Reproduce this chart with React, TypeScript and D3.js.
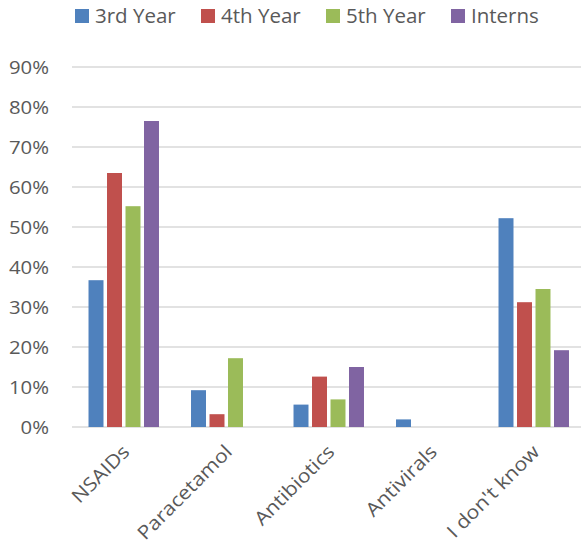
import React from "react";
import * as d3 from "d3";

// Categories and series values (percent of respondents)
const categories = ["NSAIDs", "Paracetamol", "Antibiotics", "Antivirals", "I don't know"];
const seriesNames = ["3rd Year", "4th Year", "5th Year", "Interns"];
const thirdYear = [36.7, 9.2, 5.6, 1.9, 52.2];
const fourthYear = [63.5, 3.2, 12.6, 0, 31.2];
const fifthYear = [55.2, 17.2, 6.9, 0, 34.5];
const interns = [76.5, 0, 15.0, 0, 19.2];
const yTicks = [0, 10, 20, 30, 40, 50, 60, 70, 80, 90];
const colors = ["#4F81BD", "#C0504D", "#9BBB59", "#8064A2"];

const seriesValues = [thirdYear, fourthYear, fifthYear, interns];

const W = 581;
const H = 547;
const FONT = "'Open Sans', 'Noto Sans', sans-serif";
const TEXT = "#595959";
const GRID = "#D9D9D9";

export default function App() {
  const y = d3.scaleLinear().domain([0, 90]).range([427, 67]);
  const x0 = d3.scaleBand<string>().domain(categories).range([72.5, 585]).padding(0);
  const x1 = d3
    .scaleBand<string>()
    .domain(seriesNames)
    .range([12.5, 90])
    .paddingInner(0.19)
    .paddingOuter(0.19);
  const fmt = (v: number) => `${v}%`;

  const legendX = [75, 201, 326, 451];

  return (
    <svg
      width={W}
      height={H}
      style={{ position: "absolute", left: 0, top: 0, background: "#fff" }}
    >
      {/* gridlines */}
      {yTicks.map((t) => (
        <line
          key={`g${t}`}
          x1={72}
          x2={W}
          y1={y(t)}
          y2={y(t)}
          stroke={GRID}
          strokeWidth={1.5}
        />
      ))}
      {/* y tick labels */}
      {yTicks.map((t) => (
        <text
          key={`t${t}`}
          transform={`translate(49,${y(t) + 6.5}) scale(1.13,1)`}
          textAnchor="end"
          fontFamily={FONT}
          fontSize={18}
          fill={TEXT}
        >
          {fmt(t)}
        </text>
      ))}
      {/* bars */}
      {seriesValues.map((vals, si) =>
        vals.map((v, ci) =>
          v > 0 ? (
            <rect
              key={`b${si}-${ci}`}
              x={(x0(categories[ci]) ?? 0) + (x1(seriesNames[si]) ?? 0)}
              y={y(v)}
              width={x1.bandwidth()}
              height={y(0) - y(v)}
              fill={colors[si]}
            />
          ) : null
        )
      )}
      {/* category labels */}
      {categories.map((c) => {
        const cx = (x0(c) ?? 0) + x0.bandwidth() / 2;
        return (
          <text
            key={`c${c}`}
            transform={`translate(${cx + 7},453) rotate(-45) scale(1.12,1)`}
            textAnchor="end"
            fontFamily={FONT}
            fontSize={19}
            fill={TEXT}
          >
            {c}
          </text>
        );
      })}
      {/* legend */}
      {seriesNames.map((s, i) => (
        <g key={`l${s}`} transform={`translate(${legendX[i]},0)`}>
          <rect x={0} y={9} width={14} height={14} fill={colors[i]} />
          <text
            x={20}
            y={23.3}
            fontFamily={FONT}
            fontSize={20.5}
            fill={TEXT}
          >
            {s}
          </text>
        </g>
      ))}
    </svg>
  );
}
